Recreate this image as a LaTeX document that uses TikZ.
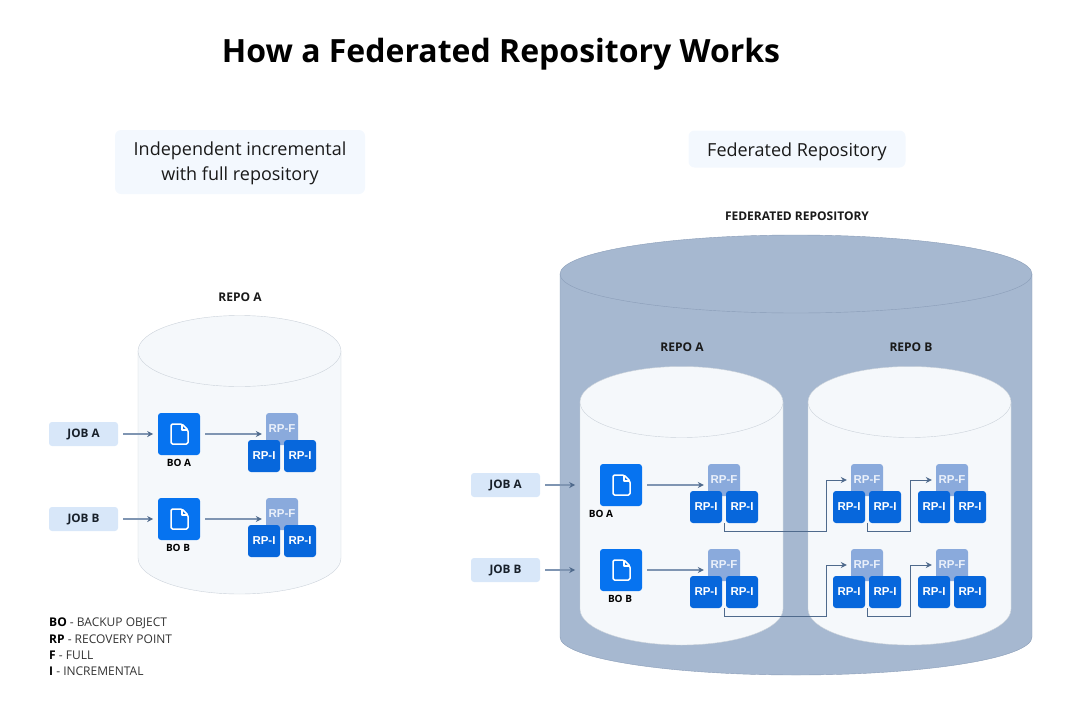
\documentclass[tikz,border=0pt]{standalone}
\usepackage{fontspec}
\setmainfont{Open Sans}
\newfontfamily\rpfont{Liberation Sans}
\usetikzlibrary{arrows.meta, positioning}

\definecolor{tankfill}{HTML}{A6B8D0}
\definecolor{tankline}{HTML}{8A9DB8}
\definecolor{repofill}{HTML}{F5F8FB}
\definecolor{repoline}{HTML}{CBD2DA}
\definecolor{bofill}{HTML}{0673F0}
\definecolor{rpifill}{HTML}{0767DC}
\definecolor{rpffill}{HTML}{8AAADC}
\definecolor{rpftext}{HTML}{EAF0FA}
\definecolor{jobfill}{HTML}{D8E7F9}
\definecolor{headfill}{HTML}{F3F8FE}
\definecolor{linkcol}{HTML}{4F6A8C}
\definecolor{arrowcol}{HTML}{7F95B2}
\definecolor{inkcol}{HTML}{1A1A1A}

\tikzset{
  lbl/.style={font=\bfseries\fontsize{12}{13}\selectfont, text=inkcol, inner sep=0pt},
  headbox/.style={fill=headfill, rounded corners=6pt, align=center, inner sep=0pt, text=inkcol,
    font=\fontsize{18}{25}\selectfont},
  jobbox/.style={fill=jobfill, rounded corners=3pt, minimum width=69pt, minimum height=24pt, inner sep=0pt,
    text=black!70!linkcol, font=\bfseries\fontsize{11.7}{13}\selectfont},
  bobox/.style={fill=bofill, rounded corners=3pt, minimum width=42pt, minimum height=42pt, inner sep=0pt},
  rpbox/.style={rounded corners=3pt, minimum width=32pt, minimum height=32pt, inner sep=0pt, text=white,
    font=\rpfont\bfseries\fontsize{11.5}{13}\selectfont},
  legend/.style={anchor=west, inner sep=0pt, text=black!80, font=\fontsize{12}{13}\selectfont},
  link/.style={draw=arrowcol, line width=1.2pt, -{Stealth[length=6pt,width=6pt,color=linkcol]}},
  elbow/.style={draw=linkcol, line width=1pt, -{Stealth[length=6pt,width=6pt]}},
}

\begin{document}
\begin{tikzpicture}[x=1pt,y=-1pt]
\useasboundingbox (0,0) rectangle (1082,715);

\node[inner sep=0pt, text=black, font=\bfseries\fontsize{32}{36}\selectfont] (title) at (501,54) {How a Federated Repository Works};

\node[headbox, minimum width=250pt, minimum height=64pt, text depth=2pt] (headl) at (240,162) {Independent incremental\\with full repository};
\node[headbox, minimum width=217pt, minimum height=37pt, text height=15.5pt, text depth=0pt] (headr) at (797,149) {Federated Repository};

% outer tank
\fill[tankfill] (560,274) -- (560,637) arc[start angle=180, end angle=0, x radius=236, y radius=38] -- (1032,274) -- cycle;
\draw[tankline] (560,274) -- (560,637) arc[start angle=180, end angle=0, x radius=236, y radius=38] -- (1032,274);
\draw[tankline, fill=tankfill] (796,274) ellipse[x radius=236, y radius=39];

% white repositories
\foreach \x/\ytop/\ybot in {138/351/558, 580/402/609, 808/402/609} {
    \fill[repofill] (\x,\ytop) -- (\x,\ybot) arc[start angle=180, end angle=0, x radius=101.5, y radius=36] -- ++(0,\ytop-\ybot) -- cycle;
    \draw[repoline] (\x,\ytop) -- (\x,\ybot) arc[start angle=180, end angle=0, x radius=101.5, y radius=36] -- ++(0,\ytop-\ybot);
    \draw[repoline, fill=repofill] (\x+101.5,\ytop) ellipse[x radius=101.5, y radius=35.5];
}

\node[lbl] (fedtitle) at (797,216) {FEDERATED REPOSITORY};
\node[lbl] (repol) at (240,297) {REPO A};
\node[lbl] (repoa) at (682,347) {REPO A};
\node[lbl] (repob) at (911,347) {REPO B};

% recovery points
\foreach \rp/\x/\y in {la/282/429, lb/282/514, a1/724/480, a2/867/480, a3/952/480, b1/724/565, b2/867/565, b3/952/565} {
    \node[rpbox, fill=rpffill, text=rpftext] (\rp-f) at (\x,\y) {RP-F};
    \node[rpbox, fill=rpifill] (\rp-l) at (\x-18,\y+27) {RP-I};
    \node[rpbox, fill=rpifill] (\rp-r) at (\x+18,\y+27) {RP-I};
}

% jobs and backup objects
\foreach \job/\txt/\jx/\bx/\y/\rp/\ls in {la/A/83.5/179/434/la/0, lb/B/83.5/179/519/lb/-1, a/A/505.5/621/485/a1/-20, b/B/505.5/621/570/b1/-1} {
    \node[jobbox] (job\job) at (\jx,\y) {JOB \txt};
    \node[bobox] (bo\job) at (\bx,\y) {};
    \node[lbl, text=black, font=\bfseries\fontsize{10}{11}\selectfont, below=4pt of bo\job, xshift=\ls pt] (bolbl\job) {BO \txt};
    \draw[white, line width=1.5pt, line join=round, rounded corners=1.5pt]
        (\bx+3,\y-10) -- (\bx-8,\y-10) -- (\bx-8,\y+10) -- (\bx+9,\y+10) -- (\bx+9,\y-4) -- cycle;
    \draw[white, line width=1.5pt, line join=round] (\bx+3,\y-10) -- (\bx+3,\y-4) -- (\bx+9,\y-4);
    \draw[link] ([xshift=5pt]job\job.east) -- ([xshift=35pt]job\job.east);
    \draw[link, shorten >=4pt] ([xshift=5pt]bo\job.east) -- (\rp-f.west |- bo\job.east);
}

% links between the repositories
\foreach \from/\to/\bx in {a1/a2/826, a2/a3/910, b1/b2/826, b2/b3/910} {
    \draw[elbow, shorten >=4pt] (\from-f |- \from-l.south) -- ++(0,8) -| (\bx,0 |- \to-f) -- (\to-f.west);
}

\node[legend] (leg1) at (49,623) {\textcolor{black}{\textbf{BO}} - BACKUP OBJECT};
\node[legend] (leg2) at (49,639) {\textcolor{black}{\textbf{RP}} - RECOVERY POINT};
\node[legend] (leg3) at (49,655) {\textcolor{black}{\textbf{F}} - FULL};
\node[legend] (leg4) at (49,671) {\textcolor{black}{\textbf{I}} - INCREMENTAL};
\end{tikzpicture}
\end{document}
